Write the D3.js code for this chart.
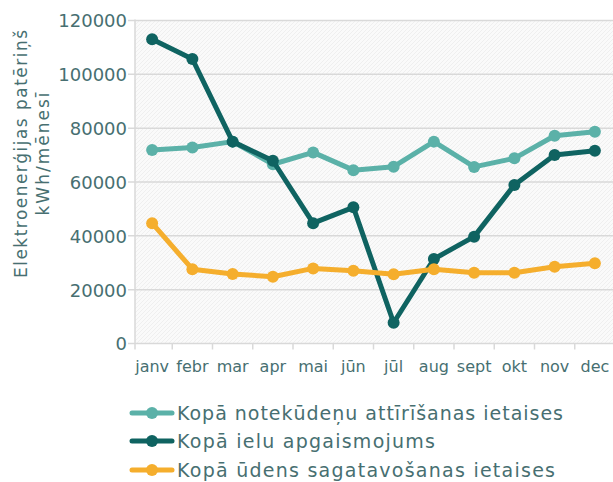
<!DOCTYPE html>
<html>
<head>
<meta charset="utf-8">
<script src="https://cdn.jsdelivr.net/npm/d3@7"></script>
<style>
  body { margin: 0; background: #fff; }
  svg { display: block; font-family: "DejaVu Sans", sans-serif; }
</style>
</head>
<body>
<div id="chart"></div>
<script>
const width = 613;
const height = 482;
const margin = {top: 20.5, right: -2, bottom: 138.5, left: 132};
const fontFamily = "DejaVu Sans, sans-serif";

const months = ["janv", "febr", "mar", "apr", "mai", "jūn", "jūl", "aug", "sept", "okt", "nov", "dec"];
const yTicks = [0, 20000, 40000, 60000, 80000, 100000, 120000];

const seriesNames = ["Kopā notekūdeņu attīrīšanas ietaises", "Kopā ielu apgaismojums", "Kopā ūdens sagatavošanas ietaises"];
const seriesColors = ["#5bb1a8", "#0f6361", "#f5ae2d"];

const notekudeni = [71900, 72800, 75000, 66600, 71000, 64400, 65700, 75000, 65600, 68800, 77200, 78700];
const apgaismojums = [113000, 105700, 75000, 67900, 44700, 50600, 7700, 31400, 39700, 58900, 70000, 71600];
const udens = [44700, 27600, 25800, 24800, 27900, 27000, 25700, 27600, 26300, 26300, 28500, 29800];

const allSeries = [notekudeni, apgaismojums, udens];
const textColor = "#476f71";
const gridColor = "#d9d9d9";

const svg = d3.select("#chart")
  .append("svg")
  .attr("width", width)
  .attr("height", height);

const defs = svg.append("defs");
const hatch = defs.append("pattern")
  .attr("id", "hatch")
  .attr("patternUnits", "userSpaceOnUse")
  .attr("width", 4)
  .attr("height", 4);
hatch.append("rect").attr("width", 4).attr("height", 4).attr("fill", "#fafafa");
hatch.append("path")
  .attr("d", "M-1,1 l2,-2 M0,4 l4,-4 M3,5 l2,-2")
  .attr("stroke", "#efefef")
  .attr("stroke-width", 1);

const x = d3.scaleBand()
  .domain(months)
  .range([margin.left, width - margin.right]);

const y = d3.scaleLinear()
  .domain([0, 120000])
  .range([height - margin.bottom, margin.top]);

const axisX = 135;

// plot background
svg.append("rect")
  .attr("x", axisX)
  .attr("y", y(120000))
  .attr("width", width - axisX)
  .attr("height", y(0) - y(120000))
  .attr("fill", "url(#hatch)");

// gridlines
svg.append("g")
  .selectAll("line")
  .data(yTicks)
  .join("line")
    .attr("x1", axisX - 7)
    .attr("x2", width)
    .attr("y1", d => y(d))
    .attr("y2", d => y(d))
    .attr("stroke", gridColor)
    .attr("stroke-width", 1.5);

// y axis labels
const yAxis = svg.append("g")
  .attr("transform", "translate(" + (axisX - 8) + ",0)")
  .call(d3.axisLeft(y).tickValues(yTicks).tickSize(0).tickPadding(0).tickFormat(d3.format("d")))
  .attr("font-family", fontFamily)
  .attr("font-size", 18);
yAxis.select(".domain").remove();
yAxis.selectAll("text")
  .attr("fill", textColor)
  .attr("dy", "0.36em");

// left axis line
svg.append("line")
  .attr("x1", axisX).attr("x2", axisX)
  .attr("y1", y(120000) - 1).attr("y2", y(0) + 6)
  .attr("stroke", gridColor)
  .attr("stroke-width", 1.5);

// x axis
const xAxis = svg.append("g")
  .attr("transform", "translate(0," + y(0) + ")")
  .call(d3.axisBottom(x).tickSize(0).tickPadding(17))
  .attr("font-family", fontFamily)
  .attr("font-size", 16);
xAxis.select(".domain").remove();
xAxis.selectAll("text")
  .attr("fill", textColor);

// x ticks at band boundaries
svg.append("g")
  .selectAll("line")
  .data(months)
  .join("line")
    .attr("x1", d => x(d) + x.bandwidth())
    .attr("x2", d => x(d) + x.bandwidth())
    .attr("y1", y(0))
    .attr("y2", y(0) + 6)
    .attr("stroke", gridColor)
    .attr("stroke-width", 1.5);

// y title
const title = svg.append("text")
  .attr("transform", "translate(30,154) rotate(-90)")
  .attr("text-anchor", "middle")
  .attr("fill", textColor)
  .attr("font-size", "17px");
title.append("tspan").attr("x", 0).attr("dy", "-0.15em")
  .attr("textLength", 248).attr("lengthAdjust", "spacing")
  .text("Elektroenerģijas patēriņš");
title.append("tspan").attr("x", 0).attr("dy", "1.25em")
  .attr("textLength", 123).attr("lengthAdjust", "spacing")
  .text("kWh/mēnesī");

// lines
const line = d3.line()
  .x((d, i) => x(months[i]) + x.bandwidth() / 2)
  .y(d => y(d));

allSeries.forEach(function (values, s) {
  const g = svg.append("g");
  g.append("path")
    .datum(values)
    .attr("d", line)
    .attr("fill", "none")
    .attr("stroke", seriesColors[s])
    .attr("stroke-width", 5)
    .attr("stroke-linejoin", "round");
  g.selectAll("circle")
    .data(values)
    .join("circle")
      .attr("cx", (d, i) => x(months[i]) + x.bandwidth() / 2)
      .attr("cy", d => y(d))
      .attr("r", 6)
      .attr("fill", seriesColors[s]);
});

// legend
const legendRows = [413, 441, 470];
const legendWidths = [386, 258, 378];
const legend = svg.append("g");
seriesNames.forEach(function (name, i) {
  const row = legend.append("g").attr("transform", "translate(0," + legendRows[i] + ")");
  row.append("line")
    .attr("x1", 132).attr("x2", 172)
    .attr("stroke", seriesColors[i])
    .attr("stroke-width", 5)
    .attr("stroke-linecap", "round");
  row.append("circle")
    .attr("cx", 152).attr("r", 6)
    .attr("fill", seriesColors[i]);
  row.append("text")
    .attr("x", 177)
    .attr("dy", "0.36em")
    .attr("fill", textColor)
    .attr("font-size", "19px")
    .attr("textLength", legendWidths[i])
    .attr("lengthAdjust", "spacing")
    .text(name);
});
</script>
</body>
</html>
